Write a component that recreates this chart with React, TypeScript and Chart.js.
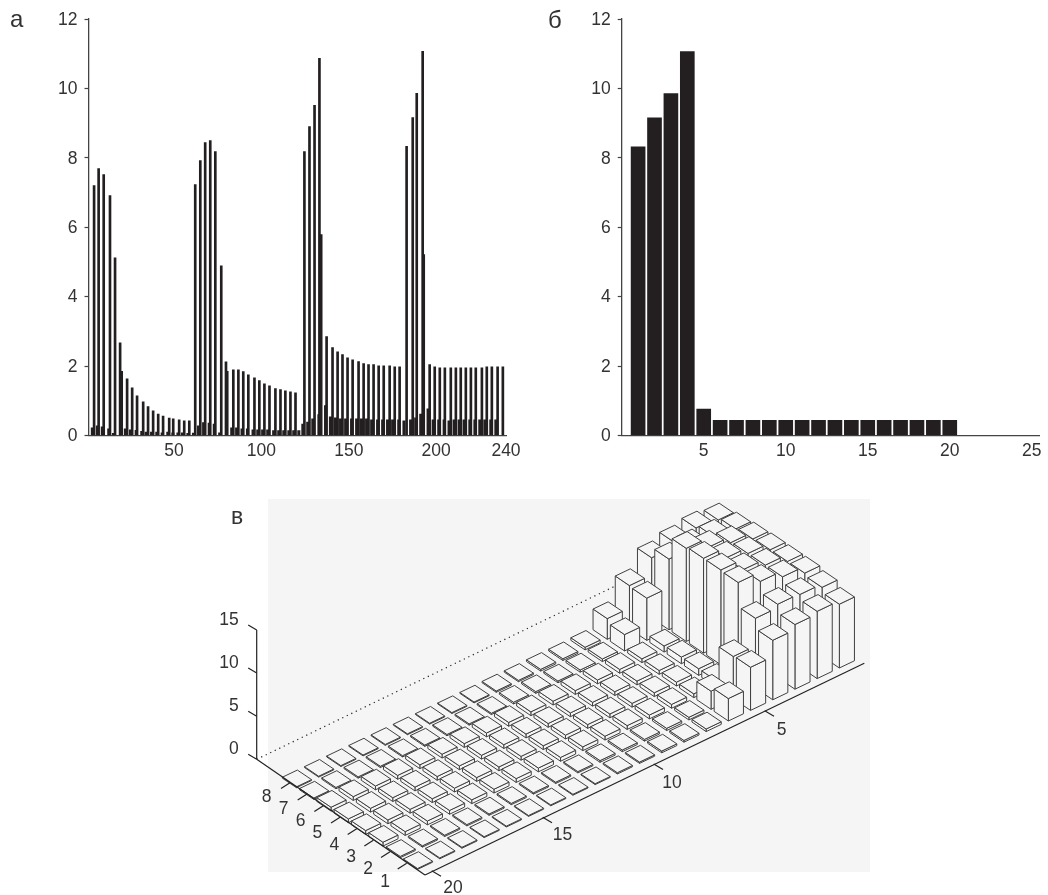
import React, { useEffect, useRef } from "react";
import { Chart, registerables } from "chart.js";

Chart.register(...registerables);

const INK = "#231f20";
const FONT = '"Liberation Sans", Arial, sans-serif';

// Panel a: stem positions (sample index) and heights
const highIdx = [4.2,6.8,9.7,13.3,16.2,19.1,20.0,23.1,26.0,28.8,32.3,35.1,38.0,40.9,43.7,47.2,49.5,52.9,55.8,58.7,
  62.1,65.0,67.8,70.7,73.6,77.0,79.7,83.9,86.8,89.6,92.5,96.0,98.8,101.7,104.6,108.0,110.9,113.7,116.6,119.5,
  124.6,127.5,130.4,133.2,134.2,137.3,140.7,143.6,146.4,149.3,152.2,155.6,158.5,161.3,164.2,167.1,170.0,173.4,176.3,179.1,
  183.1,186.6,188.9,192.3,192.9,196.3,199.2,202.1,205.0,208.4,211.3,214.1,217.0,219.9,222.7,226.2,229.0,231.9,235.2,238.2];
const highVal = [7.2,7.69,7.52,6.91,5.12,2.67,1.85,1.63,1.37,1.14,0.97,0.83,0.71,0.62,0.56,0.5,0.48,0.45,0.42,0.42,
  7.23,7.92,8.44,8.5,8.18,4.89,2.12,1.89,1.89,1.84,1.75,1.66,1.58,1.49,1.43,1.35,1.32,1.29,1.26,1.23,
  8.18,8.9,9.51,10.87,5.79,2.85,2.53,2.41,2.33,2.24,2.18,2.13,2.07,2.04,2.04,2.01,2.01,2.01,1.98,1.98,
  8.33,9.16,9.86,11.07,5.21,2.04,1.98,1.95,1.95,1.95,1.95,1.95,1.95,1.95,1.95,1.95,1.98,1.98,1.98,1.98];
const lowIdx = [3.2,6.1,8.9,12.6,15.3,22.1,25.0,28.3,31.5,34.0,37.1,40.1,43.2,46.4,49.3,52.2,54.8,57.9,61.1,
  64.0,66.9,70.1,73.0,76.1,80.3,83.0,85.8,88.9,92.0,95.2,97.9,100.7,103.6,107.0,109.9,112.8,115.7,118.5,121.4,
  123.7,126.5,129.4,132.9,136.7,139.5,142.4,145.3,148.2,151.6,154.5,157.3,160.2,163.1,166.5,169.4,172.2,175.1,178.6,181.6,
  185.4,188.3,191.2,195.4,198.3,201.5,204.6,207.4,210.3,213.2,216.0,219.3,222.2,225.0,227.9,231.3,234.2,237.1];
const lowVal = [0.22,0.28,0.25,0.19,0.06,0.19,0.16,0.15,0.12,0.1,0.1,0.1,0.08,0.1,0.08,0.08,0.08,0.06,0.07,
  0.28,0.37,0.36,0.33,0.08,1.85,0.22,0.22,0.19,0.19,0.16,0.16,0.16,0.16,0.14,0.14,0.14,0.14,0.14,0.14,
  0.33,0.39,0.48,0.6,0.86,0.54,0.51,0.48,0.48,0.48,0.48,0.48,0.48,0.45,0.45,0.45,0.45,0.45,0.45,0.42,
  0.45,0.51,0.62,0.77,0.45,0.45,0.45,0.42,0.45,0.45,0.45,0.45,0.45,0.45,0.45,0.45,0.45];
const panelAXTicks = [50, 100, 150, 200, 240];

// Panel b
const panelBX = [1,2,3,4,5,6,7,8,9,10,11,12,13,14,15,16,17,18,19,20];
const panelBY = [8.32,9.15,9.85,11.06,0.76,0.44,0.44,0.44,0.44,0.44,0.44,0.44,0.44,0.44,0.44,0.44,0.44,0.44,0.44,0.44];
const panelBXTicks = [5, 10, 15, 20, 25];
const yTicks = [0, 2, 4, 6, 8, 10, 12];

// Panel c: bar heights by row (1..8), each with columns 1..20
const row1 = [7.4,7.8,7.5,6.9,5.0,2.6,0.3,0.2,0.2,0.15,0.15,0.1,0.1,0.1,0.1,0.1,0.1,0.1,0.1,0.1];
const row2 = [8.0,8.4,8.5,8.1,4.9,2.1,0.3,0.25,0.2,0.2,0.2,0.15,0.15,0.15,0.15,0.15,0.15,0.15,0.15,0.15];
const row3 = [8.3,9.1,9.8,10.9,0.77,0.44,0.44,0.44,0.44,0.44,0.44,0.44,0.44,0.44,0.44,0.44,0.44,0.44,0.44,0.44];
const row4 = [8.3,9.1,9.8,11.0,0.77,0.44,0.44,0.44,0.44,0.44,0.44,0.44,0.44,0.44,0.44,0.44,0.44,0.44,0.44,0.44];
const row5 = [8.3,9.1,9.8,11.0,0.77,0.44,0.44,0.44,0.44,0.44,0.44,0.44,0.44,0.44,0.44,0.44,0.44,0.44,0.44,0.44];
const row6 = [8.2,9.0,9.7,10.8,0.7,0.44,0.44,0.44,0.44,0.44,0.44,0.44,0.44,0.44,0.44,0.44,0.44,0.44,0.44,0.44];
const row7 = [8.0,8.4,8.5,8.2,4.9,1.9,0.3,0.25,0.2,0.2,0.2,0.15,0.15,0.15,0.15,0.15,0.15,0.15,0.15,0.15];
const row8 = [7.7,8.0,7.6,7.0,5.0,2.4,0.3,0.2,0.2,0.15,0.15,0.1,0.1,0.1,0.1,0.1,0.1,0.1,0.1,0.1];
const rows3d = [row1, row2, row3, row4, row5, row6, row7, row8];
const zTicks = [0, 5, 10, 15];
const rowTicks = [1, 2, 3, 4, 5, 6, 7, 8];
const colTicks = [5, 10, 15, 20];

// Oblique view of panel c, in page pixels per unit
const VIEW = {
  ox: 256.7, oy: 759.3, // page position of the plane's origin (z axis foot)
  cx: 418, cy: 861,     // page position of row 1, column 20
  rowX: -17.3, rowY: -11.67,
  colX: 22.2, colY: -10.6,
  zPx: 8.62,
  halfRow: 0.41, halfCol: 0.34,
  canvasLeft: 200, canvasTop: 490, canvasW: 690, canvasH: 405,
};

function yAxis(width: number) {
  return {
    min: 0,
    max: 12,
    afterFit: (s: any) => { s.width = width; },
    afterBuildTicks: (s: any) => { s.ticks = yTicks.map((value) => ({ value })); },
    border: { color: "#444", width: 1.3 },
    grid: { drawOnChartArea: false, drawTicks: true, tickLength: 4, tickColor: "#444", tickWidth: 1.2 },
    ticks: { color: "#333", padding: 7, labelOffset: 1, font: { family: FONT, size: 17.5 } },
  };
}

function xAxis(min: number, max: number, ticks: number[], height: number) {
  return {
    type: "linear",
    offset: false,
    min,
    max,
    afterFit: (s: any) => { s.height = height; },
    afterBuildTicks: (s: any) => { s.ticks = ticks.map((value) => ({ value })); },
    border: { color: "#444", width: 1.3 },
    grid: { drawOnChartArea: false, drawTicks: false, offset: false },
    ticks: { color: "#333", padding: 5, maxRotation: 0, autoSkip: false, font: { family: FONT, size: 17.5 } },
  };
}

const base = {
  animation: false,
  responsive: false,
  plugins: { legend: { display: false }, tooltip: { enabled: false } },
};

function pairs(xs: number[], ys: number[]) {
  return xs.map((x, i) => ({ x, y: ys[i] }));
}

const PanelA = () => {
  const ref = useRef<HTMLCanvasElement>(null);
  useEffect(() => {
    const chart = new Chart(ref.current!, {
      type: "bar",
      data: {
        datasets: [
          { label: "upper", data: pairs(highIdx, highVal), backgroundColor: INK, barThickness: 2, grouped: false },
          { label: "lower", data: pairs(lowIdx, lowVal), backgroundColor: INK, barThickness: 2.4, grouped: false },
        ],
      },
      options: {
        ...base,
        layout: { padding: { top: 19, right: 24, left: 0, bottom: 0 } },
        scales: { x: xAxis(1, 240, panelAXTicks, 34.5), y: yAxis(88.5) },
      },
    } as any);
    return () => chart.destroy();
  }, []);
  return <canvas ref={ref} width={530} height={470} style={{ position: "absolute", left: 0, top: 0 }} />;
};

const PanelB = () => {
  const ref = useRef<HTMLCanvasElement>(null);
  useEffect(() => {
    const chart = new Chart(ref.current!, {
      type: "bar",
      data: { datasets: [{ label: "б", data: pairs(panelBX, panelBY), backgroundColor: INK, barThickness: 14 }] },
      options: {
        ...base,
        layout: { padding: { top: 19, right: 9, left: 0, bottom: 0 } },
        scales: { x: xAxis(0, 25.44, panelBXTicks, 34.5), y: yAxis(81.7) },
      },
    } as any);
    return () => chart.destroy();
  }, []);
  return <canvas ref={ref} width={508} height={470} style={{ position: "absolute", left: 540, top: 0 }} />;
};

// Convert a (row, column, height) position to the plane the chart's two scales span.
function planePoint(r: number, c: number, z: number) {
  const v = VIEW;
  const px = v.cx + (r - 1) * v.rowX + (20 - c) * v.colX;
  const py = v.cy + (r - 1) * v.rowY + (20 - c) * v.colY;
  return { x: px - v.ox, y: z - (py - v.oy) / v.zPx };
}

const bars3d = {
  id: "bars3d",
  afterDatasetsDraw(chart: any) {
    const { ctx, scales } = chart;
    const X = (u: number) => scales.x.getPixelForValue(u);
    const Y = (w: number) => scales.y.getPixelForValue(w);
    const at = (r: number, c: number, z: number) => {
      const p = planePoint(r, c, z);
      return [X(p.x), Y(p.y)] as [number, number];
    };
    const page = (px: number, py: number) =>
      [X(px - VIEW.ox), Y(-(py - VIEW.oy) / VIEW.zPx)] as [number, number];
    const line = (a: [number, number], b: [number, number]) => {
      ctx.beginPath();
      ctx.moveTo(a[0], a[1]);
      ctx.lineTo(b[0], b[1]);
      ctx.stroke();
    };
    ctx.save();

    // dotted back edge
    ctx.strokeStyle = "#222";
    ctx.lineWidth = 1.2;
    ctx.setLineDash([1.2, 3.8]);
    line(page(256.7, 759.3), page(696, 547));
    ctx.setLineDash([]);

    // bars, far to near
    const face = (pts: [number, number][]) => {
      ctx.beginPath();
      pts.forEach((p, i) => (i ? ctx.lineTo(p[0], p[1]) : ctx.moveTo(p[0], p[1])));
      ctx.closePath();
      ctx.fill();
      ctx.stroke();
    };
    ctx.fillStyle = "#f5f5f5";
    ctx.strokeStyle = "#404040";
    ctx.lineWidth = 1;
    ctx.lineJoin = "round";
    const a = VIEW.halfRow;
    const b = VIEW.halfCol;
    for (let i = rows3d.length - 1; i >= 0; i--) {
      const r = i + 1;
      rows3d[i].forEach((h, j) => {
        const c = j + 1;
        face([at(r - a, c - b, 0), at(r - a, c + b, 0), at(r - a, c + b, h), at(r - a, c - b, h)]);
        face([at(r - a, c + b, 0), at(r + a, c + b, 0), at(r + a, c + b, h), at(r - a, c + b, h)]);
        face([at(r - a, c - b, h), at(r - a, c + b, h), at(r + a, c + b, h), at(r + a, c - b, h)]);
      });
    }

    // axes
    ctx.strokeStyle = "#222";
    ctx.lineWidth = 1.2;
    line(page(256.7, 759.3), page(425, 875));
    line(page(425, 875), page(864.3, 663.3));
    line(page(256.7, 759.3), [X(0), Y(15)]);
    zTicks.forEach((z) => line([X(0), Y(z)], [X(0) - 8.5, Y(z) - 5]));

    ctx.fillStyle = "#333";
    ctx.font = `17.5px ${FONT}`;
    ctx.textAlign = "center";
    ctx.textBaseline = "middle";
    rowTicks.forEach((r) => {
      const tx = 290 + (8 - r) * 16.67;
      const ty = 782.7 + (8 - r) * 11.5;
      line(page(tx, ty), page(tx - 9, ty + 5.7));
      const [lx, ly] = page(385 - (r - 1) * 16.9, 881.7 - (r - 1) * 12.1);
      ctx.fillText(String(r), lx, ly);
    });
    colTicks.forEach((c) => {
      const tx = 431.7 + (20 - c) * 22.2;
      const ty = 870.7 - (20 - c) * 10.67;
      line(page(tx, ty), page(tx + 9.3, ty + 5.5));
      const [lx, ly] = page(453 + (20 - c) * 21.9, 888 - (20 - c) * 10.5);
      ctx.fillText(String(c), lx, ly);
    });
    ctx.restore();
  },
};

const PanelC = () => {
  const ref = useRef<HTMLCanvasElement>(null);
  useEffect(() => {
    const v = VIEW;
    const axisWidth = v.ox - v.canvasLeft;
    const zero = v.oy - v.canvasTop;
    const chart = new Chart(ref.current!, {
      type: "scatter",
      data: {
        datasets: rows3d.map((row, i) => ({
          label: `row ${i + 1}`,
          data: row.map((h, j) => planePoint(i + 1, j + 1, h)),
          pointRadius: 0,
          showLine: false,
        })),
      },
      options: {
        ...base,
        layout: { padding: 0 },
        scales: {
          x: { type: "linear", display: false, min: 0, max: v.canvasW - axisWidth },
          y: {
            type: "linear",
            min: (zero - v.canvasH) / v.zPx,
            max: zero / v.zPx,
            afterFit: (s: any) => { s.width = axisWidth; s.paddingTop = 0; s.paddingBottom = 0; },
            afterBuildTicks: (s: any) => { s.ticks = zTicks.map((value) => ({ value })); },
            border: { display: false },
            grid: { display: false, drawTicks: false },
            ticks: { color: "#333", padding: 18, labelOffset: -10, autoSkip: false, font: { family: FONT, size: 17.5 } },
          },
        },
      },
      plugins: [bars3d],
    } as any);
    return () => chart.destroy();
  }, []);
  return (
    <canvas
      ref={ref}
      width={VIEW.canvasW}
      height={VIEW.canvasH}
      style={{ position: "absolute", left: VIEW.canvasLeft, top: VIEW.canvasTop }}
    />
  );
};

const letter = (text: string, left: number, top: number, size: number) => (
  <div style={{ position: "absolute", left, top, fontFamily: FONT, fontSize: size, color: "#333", lineHeight: 1 }}>{text}</div>
);

export default function App() {
  return (
    <div style={{ position: "absolute", left: 0, top: 0, width: 1048, height: 895, overflow: "hidden", background: "#fff" }}>
      <div style={{ position: "absolute", left: 268, top: 499, width: 602, height: 373, background: "#f5f5f5" }} />
      <PanelA />
      <PanelB />
      <PanelC />
      {letter("а", 10, 7, 24)}
      {letter("б", 548, 8, 24)}
      {letter("в", 231, 505, 23)}
    </div>
  );
}
